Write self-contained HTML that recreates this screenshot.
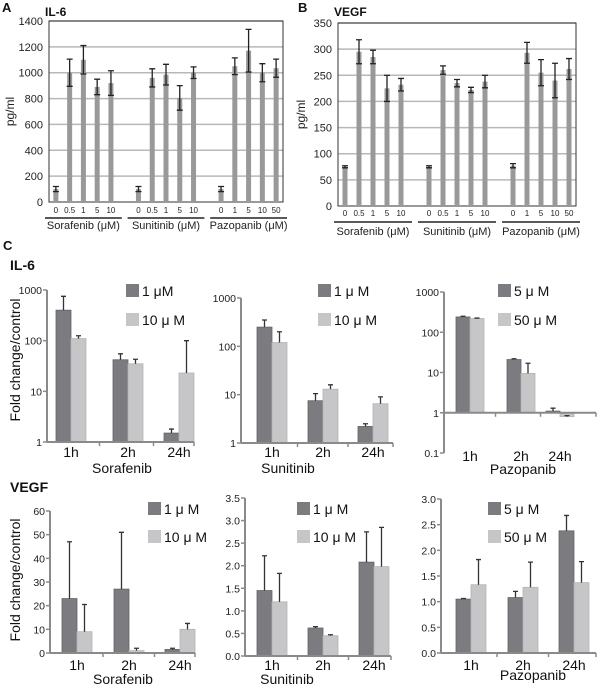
<!DOCTYPE html>
<html><head><meta charset="utf-8"><style>
body{margin:0;background:#fff;}
svg{display:block;font-family:"Liberation Sans",Arial,sans-serif;}
</style></head><body>
<svg id="fig" width="600" height="689" viewBox="0 0 600 689"></svg>
<script>
// ---- Panel A/B data ----
const doseLabelsA = ["0","0.5","1","5","10","0","0.5","1","5","10","0","1","5","10","50"];
const drugNames = ["Sorafenib (\u03bcM)","Sunitinib (\u03bcM)","Pazopanib (\u03bcM)"];
const il6Values = [100,1000,1100,890,920, 100,960,985,805,1000, 100,1050,1170,1000,1035];
const il6Errors = [20,105,110,60,95, 20,70,80,95,45, 20,65,165,70,70];
const il6Ticks = [0,200,400,600,800,1000,1200,1400];
const vegfValues = [75,295,285,225,232, 75,260,235,222,238, 77,293,255,240,262];
const vegfErrors = [2,23,13,25,12, 2,8,7,5,12, 4,20,25,33,20];
const vegfTicks = [0,50,100,150,200,250,300,350];
// ---- Panel C data ----
const timeLabels = ["1h","2h","24h"];
const cIl6SoraDark = [400,42,1.5], cIl6SoraDarkErr = [750,55,1.8];
const cIl6SoraLight = [110,35,23], cIl6SoraLightErr = [125,43,100];
const cIl6SuniDark = [250,7.5,2.2], cIl6SuniDarkErr = [350,10.5,2.5];
const cIl6SuniLight = [120,13,6.5], cIl6SuniLightErr = [200,16,9];
const cIl6PazoDark = [240,21,1.1], cIl6PazoDarkErr = [250,22,1.3];
const cIl6PazoLight = [220,9.5,0.8], cIl6PazoLightErr = [225,17,0.85];
const cVegfSoraDark = [23,27,1.5], cVegfSoraDarkErr = [47,51,2];
const cVegfSoraLight = [9,1,10], cVegfSoraLightErr = [20.5,2,12.5];
const cVegfSuniDark = [1.45,0.62,2.08], cVegfSuniDarkErr = [2.22,0.65,2.75];
const cVegfSuniLight = [1.2,0.45,1.98], cVegfSuniLightErr = [1.83,0.47,2.85];
const cVegfPazoDark = [1.05,1.08,2.38], cVegfPazoDarkErr = [1.06,1.2,2.68];
const cVegfPazoLight = [1.33,1.28,1.37], cVegfPazoLightErr = [1.82,1.77,1.78];
const logTicksA = [1,10,100,1000], logTicksB = [0.1,1,10,100,1000];
const vTicksSora = [0,10,20,30,40,50,60];
const vTicksSuni = [0,0.5,1.0,1.5,2.0,2.5,3.0,3.5];
const vTicksPazo = [0,0.5,1.0,1.5,2.0,2.5,3.0];

const NS="http://www.w3.org/2000/svg";
const svg=document.getElementById('fig');
function mk(tag,attrs,parent){const e=document.createElementNS(NS,tag);for(const k in attrs)e.setAttribute(k,attrs[k]);(parent||svg).appendChild(e);return e;}
function txt(x,y,s,attrs,parent){const e=mk('text',Object.assign({x:x,y:y},attrs||{}),parent);e.textContent=s;return e;}

// ---- Panel A/B ----
function drawTop(cfg){
  const g=mk('g',{});
  
  
  const {x0,x1,yTop,yBot,max}=cfg;
  const ys=v=>yBot-(v/max)*(yBot-yTop);
  const slot=(x1-x0)/17;
  cfg.ticks.forEach(t=>{
    if(t>0){const l=mk('line',{x1:x0,x2:x1,y1:ys(t),y2:ys(t),stroke:'#b8b8b8','stroke-width':1.5},g);
      }
    const tl=txt(x0-6,ys(t)+4,String(t),{'font-size':11,'text-anchor':'end',fill:'#222'},g);
    
  });
  const box=mk('rect',{x:x0,y:yTop,width:x1-x0,height:yBot-yTop,fill:'none',stroke:'#333','stroke-width':1},g);
  
  cfg.values.forEach((v,i)=>{
    const grp=Math.floor(i/5), k=i%5, idx=grp*6+k;
    const cx=x0+slot*(idx+0.5);
    const b=mk('rect',{x:cx-2.5,y:ys(v),width:5,height:yBot-ys(v),fill:'#999'},g);
    
    const e=cfg.errors[i], yt=ys(v+e), yb=ys(v-e);
    const eb=mk('path',{d:`M${cx},${yt}V${yb}M${cx-3},${yt}H${cx+3}M${cx-3},${yb}H${cx+3}`,stroke:'#222','stroke-width':1.3,fill:'none'},g);
    
    const dl=txt(cx,cfg.tickY,doseLabelsA[i],{'font-size':8,'text-anchor':'middle',fill:'#222'},g);
    
  });
  for(let gi=0;gi<3;gi++){
    const a=x0+slot*(gi*6)-4, b2=x0+slot*(gi*6+5)+4;
    const u=mk('line',{x1:a,x2:b2,y1:cfg.lineY,y2:cfg.lineY,stroke:'#222','stroke-width':1.5},g);
    
    const gl=txt((a+b2)/2,cfg.labY,drugNames[gi],{'font-size':11,'text-anchor':'middle',fill:'#222'},g);
    
  }
  const yt=txt(0,0,'pg/ml',{'font-size':12,'text-anchor':'middle',fill:'#222',transform:`translate(${cfg.ytX},${(yTop+yBot)/2}) rotate(-90)`},g);
  
  const pl=txt(cfg.letterX,12,cfg.letter,{'font-size':13,'font-weight':'bold',fill:'#111'},g);
  
  const ti=txt(x0-4,16,cfg.title,{'font-size':12,'font-weight':'bold',fill:'#111'},g);
  
}
drawTop({name:'il6-pg-chart',x0:49,x1:283,yTop:21,yBot:202,max:1400,ticks:il6Ticks,values:il6Values,errors:il6Errors,tickY:213,lineY:218,labY:229,ytX:14,letter:'A',letterX:2,title:'IL-6'});
drawTop({name:'vegf-pg-chart',x0:338,x1:576,yTop:23,yBot:206,max:350,ticks:vegfTicks,values:vegfValues,errors:vegfErrors,tickY:216,lineY:222,labY:235,ytX:305,letter:'B',letterX:298,title:'VEGF'});

// ---- Panel C ----
function drawC(cfg){
  const g=mk('g',{});
  
  
  let ys;
  if(cfg.log){const lmin=Math.log10(cfg.min),lmax=Math.log10(cfg.max);ys=v=>cfg.yBot-(Math.log10(v)-lmin)/(lmax-lmin)*(cfg.yBot-cfg.yTop);}
  else ys=v=>cfg.yBot-(v/cfg.max)*(cfg.yBot-cfg.yTop);
  const base=ys(cfg.base), ax='#8a8a8a';
  const yaxis=mk('line',{x1:cfg.x0,x2:cfg.x0,y1:cfg.yTop,y2:cfg.yBot,stroke:ax,'stroke-width':2},g);
  
  cfg.ticks.forEach(t=>{
    mk('line',{x1:cfg.x0-4,x2:cfg.x0,y1:ys(t),y2:ys(t),stroke:ax,'stroke-width':1.5},g);
    const s=cfg.log?String(t):(cfg.dec?t.toFixed(1):String(t));
    const tl=txt(cfg.x0-5,ys(t)+4,s,{'font-size':10.5,'text-anchor':'end',fill:'#222'},g);
    
  });
  const bw=cfg.bw;
  const cols=['#7c7c80','#c6c6c8'];
  timeLabels.forEach((lab,i)=>{
    const gs=cfg.groupX[i];
    [[cfg.dark,cfg.darkErr],[cfg.light,cfg.lightErr]].forEach((s,j)=>{
      const v=s[0][i], e=s[1][i], bx=gs+j*bw, yv=ys(v);
      const r=mk('rect',{x:bx,y:Math.min(yv,base),width:bw,height:Math.abs(base-yv),fill:cols[j],stroke:j?'#b4b4b6':'#646468','stroke-width':0.8},g);
      
      const cx=bx+bw/2, ye=ys(e);
      const eb=mk('path',{d:`M${cx},${yv}V${ye}M${cx-2.5},${ye}H${cx+2.5}`,stroke:'#333','stroke-width':1.3,fill:'none'},g);
      
    });
    const tl=txt(gs+bw,cfg.labY,lab,{'font-size':14,'text-anchor':'middle',fill:'#111'},g);
    
  });
  const xaxis=mk('line',{x1:cfg.x0,x2:cfg.x1,y1:base,y2:base,stroke:ax,'stroke-width':2},g);
  
  [cfg.groupX[0]+bw*2+(cfg.groupX[1]-cfg.groupX[0]-bw*2)/2,cfg.groupX[1]+bw*2+(cfg.groupX[2]-cfg.groupX[1]-bw*2)/2,cfg.x1].forEach(x=>mk('line',{x1:x,x2:x,y1:base,y2:base+4,stroke:ax,'stroke-width':1.5},g));
  const dn=txt(cfg.drugX,cfg.drugY,cfg.drug,{'font-size':14,'text-anchor':'middle',fill:'#111'},g);
  
  cfg.legend.forEach((l,j)=>{
    const y=cfg.legY[j];
    const sq=mk('rect',{x:cfg.legX,y:y-7,width:13,height:13,fill:cols[j]},g);
    
    const lt=txt(cfg.legX+16,y+5,l,{'font-size':14,fill:'#111'},g);
    
  });
}
const L1=['1 \u03bcM','10 \u03bc M'], L2=['1 \u03bc M','10 \u03bc M'], L3=['5 \u03bc M','50 \u03bc M'];
drawC({name:'il6-sorafenib-chart',log:true,min:1,max:1000,base:1,x0:47,x1:194,yTop:290,yBot:442,ticks:logTicksA,bw:15,groupX:[56,113,164],dark:cIl6SoraDark,darkErr:cIl6SoraDarkErr,light:cIl6SoraLight,lightErr:cIl6SoraLightErr,labY:457,drug:'Sorafenib',drugX:122,drugY:473,legend:L1,legX:126,legY:[291,320]});
drawC({name:'il6-sunitinib-chart',log:true,min:1,max:1000,base:1,x0:241,x1:393,yTop:298,yBot:443,ticks:logTicksA,bw:15,groupX:[257,308,358],dark:cIl6SuniDark,darkErr:cIl6SuniDarkErr,light:cIl6SuniLight,lightErr:cIl6SuniLightErr,labY:457,drug:'Sunitinib',drugX:288,drugY:473,legend:L2,legX:318,legY:[291,320]});
drawC({name:'il6-pazopanib-chart',log:true,min:0.1,max:1000,base:1,x0:444,x1:596,yTop:292,yBot:453,ticks:logTicksB,bw:14,groupX:[456,507,546],dark:cIl6PazoDark,darkErr:cIl6PazoDarkErr,light:cIl6PazoLight,lightErr:cIl6PazoLightErr,labY:461,drug:'Pazopanib',drugX:523,drugY:474,legend:L3,legX:498,legY:[291,320]});
drawC({name:'vegf-sorafenib-chart',log:false,max:60,base:0,x0:50,x1:195,yTop:511,yBot:653,ticks:vTicksSora,bw:15,groupX:[62,114,165],dark:cVegfSoraDark,darkErr:cVegfSoraDarkErr,light:cVegfSoraLight,lightErr:cVegfSoraLightErr,labY:670,drug:'Sorafenib',drugX:123,drugY:684,legend:L2,legX:148,legY:[509,537]});
drawC({name:'vegf-sunitinib-chart',log:false,dec:true,max:3.5,base:0,x0:245,x1:391,yTop:498,yBot:656,ticks:vTicksSuni,bw:15,groupX:[257,308,359],dark:cVegfSuniDark,darkErr:cVegfSuniDarkErr,light:cVegfSuniLight,lightErr:cVegfSuniLightErr,labY:670,drug:'Sunitinib',drugX:287,drugY:684,legend:L2,legX:297,legY:[509,537]});
drawC({name:'vegf-pazopanib-chart',log:false,dec:true,max:3.0,base:0,x0:441,x1:596,yTop:499,yBot:653,ticks:vTicksPazo,bw:15,groupX:[456,508,559],dark:cVegfPazoDark,darkErr:cVegfPazoDarkErr,light:cVegfPazoLight,lightErr:cVegfPazoLightErr,labY:670,drug:'Pazopanib',drugX:533,drugY:680,legend:L3,legX:488,legY:[509,537]});

const cl=txt(3,250,'C',{'font-size':13,'font-weight':'bold',fill:'#111'});

const t1=txt(10,270,'IL-6',{'font-size':14,'font-weight':'bold',fill:'#111'});

const t2=txt(10,492,'VEGF',{'font-size':14,'font-weight':'bold',fill:'#111'});

const y1=txt(0,0,'Fold change/control',{'font-size':14,'text-anchor':'middle',fill:'#111',transform:'translate(20,360) rotate(-90)'});

const y2=txt(0,0,'Fold change/control',{'font-size':14,'text-anchor':'middle',fill:'#111',transform:'translate(20,580) rotate(-90)'});

</script>
</body></html>
